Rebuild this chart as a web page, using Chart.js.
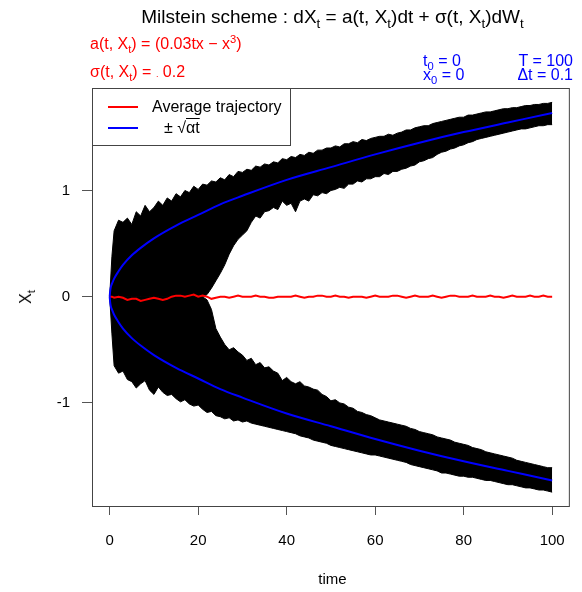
<!DOCTYPE html>
<html>
<head>
<meta charset="utf-8">
<script src="https://cdn.jsdelivr.net/npm/chart.js@4"></script>
<style>
  body { margin: 0; background: #fff; font-family: "Liberation Sans", Arial, sans-serif; }
  #wrap { position: relative; width: 582px; height: 592px; }
  .txt { position: absolute; white-space: nowrap; line-height: 1; }
  .s { font-size: 70%; position: relative; top: 0.35em; }
  .p { font-size: 70%; position: relative; top: -0.55em; }
  #legend { position: absolute; left: 92px; top: 88px; width: 199px; height: 58px;
            border: 1px solid #444; background: #fff; box-sizing: border-box; }
  .lk { position: absolute; left: 15px; width: 30px; height: 2px; }
</style>
</head>
<body>
<div id="wrap">
  <canvas id="chart" width="582" height="592"></canvas>

  <div class="txt" id="title" style="left:0; width:665px; text-align:center; top:7px; font-size:19px; color:#000;">
    Milstein scheme : dX<span class="s">t</span> = a(t, X<span class="s">t</span>)dt + σ(t, X<span class="s">t</span>)dW<span class="s">t</span>
  </div>
  <div class="txt" style="left:90px; top:36px; font-size:16px; color:#ff0000;">a(t, X<span class="s">t</span>) = (0.03tx − x<span class="p">3</span>)</div>
  <div class="txt" style="left:90px; top:64px; font-size:16px; color:#ff0000;">σ(t, X<span class="s">t</span>) = <span style="font-size:9px">.</span> 0.2</div>
  <div class="txt" style="left:423px; top:53px; font-size:16px; color:#0000ff;">t<span class="s">0</span> = 0</div>
  <div class="txt" style="left:423px; top:67px; font-size:16px; color:#0000ff;">x<span class="s">0</span> = 0</div>
  <div class="txt" style="right:9px; top:53px; font-size:16px; color:#0000ff;">T = 100</div>
  <div class="txt" style="right:9px; top:67px; font-size:16px; color:#0000ff;">Δt = 0.1</div>

  <div id="legend">
    <div class="lk" style="top:17px; background:#ff0000;"></div>
    <div class="lk" style="top:38px; background:#0000ff;"></div>
    <div class="txt" style="left:59px; top:10px; font-size:16px;">Average trajectory</div>
    <div class="txt" style="left:71px; top:31px; font-size:16px;">± √<span style="text-decoration:overline;">αt</span></div>
  </div>

  <div class="txt" style="left:0; width:665px; text-align:center; top:571px; font-size:15px;">time</div>
  <div class="txt" style="left:26px; top:297px; font-size:16px; transform:translate(-50%,-50%) rotate(-90deg); transform-origin:center;">X<span class="s">t</span></div>
</div>

<script>
// time grid shared by the trajectory envelopes and the average
const time = [0, 0.5,
  1, 2, 3, 4, 5, 6, 7, 8, 9, 10,
  11, 12, 13, 14, 15, 16, 17, 18, 19, 20,
  21, 22, 23, 24, 25, 26, 27, 28, 29, 30,
  31, 32, 33, 34, 35, 36, 37, 38, 39, 40,
  41, 42, 43, 44, 45, 46, 47, 48, 49, 50,
  51, 52, 53, 54, 55, 56, 57, 58, 59, 60,
  61, 62, 63, 64, 65, 66, 67, 68, 69, 70,
  71, 72, 73, 74, 75, 76, 77, 78, 79, 80,
  81, 82, 83, 84, 85, 86, 87, 88, 89, 90,
  91, 92, 93, 94, 95, 96, 97, 98, 99, 100];

// upper bundle of trajectories: top and bottom edge
const upperTop = [0, 0.38,
  0.62, 0.72, 0.70, 0.74, 0.68, 0.80, 0.76, 0.86, 0.80, 0.84,
  0.90, 0.86, 0.93, 0.90, 0.97, 0.94, 1.00, 0.98, 1.04, 1.01,
  1.06, 1.05, 1.09, 1.08, 1.12, 1.10, 1.15, 1.13, 1.18, 1.17,
  1.20, 1.19, 1.23, 1.22, 1.25, 1.24, 1.27, 1.26, 1.30, 1.29,
  1.32, 1.31, 1.34, 1.33, 1.36, 1.35, 1.38, 1.38, 1.40, 1.40,
  1.42, 1.41, 1.44, 1.44, 1.46, 1.45, 1.48, 1.47, 1.49, 1.50,
  1.51, 1.51, 1.53, 1.52, 1.54, 1.55, 1.57, 1.57, 1.59, 1.60,
  1.61, 1.61, 1.63, 1.64, 1.65, 1.66, 1.67, 1.68, 1.69, 1.69,
  1.71, 1.71, 1.72, 1.73, 1.74, 1.74, 1.75, 1.76, 1.77, 1.77,
  1.78, 1.78, 1.79, 1.80, 1.80, 1.81, 1.81, 1.82, 1.82, 1.83];
const upperBottom = [0, 0,
  0, 0, 0, 0, 0, 0, 0, 0, 0, 0,
  0, 0, 0, 0, 0, 0, 0, 0, 0, 0,
  0, 0.02, 0.08, 0.15, 0.22, 0.30, 0.40, 0.48, 0.54, 0.58,
  0.62, 0.70, 0.76, 0.74, 0.80, 0.81, 0.84, 0.82, 0.90, 0.86,
  0.88, 0.80, 0.90, 0.92, 0.90, 0.96, 0.95, 0.98, 0.97, 1.00,
  1.01, 1.03, 1.02, 1.06, 1.06, 1.09, 1.08, 1.11, 1.11, 1.13,
  1.13, 1.16, 1.15, 1.18, 1.18, 1.20, 1.21, 1.23, 1.24, 1.27,
  1.28, 1.30, 1.31, 1.34, 1.36, 1.37, 1.39, 1.40, 1.42, 1.43,
  1.45, 1.46, 1.48, 1.49, 1.50, 1.51, 1.52, 1.53, 1.54, 1.55,
  1.56, 1.57, 1.58, 1.58, 1.59, 1.60, 1.61, 1.61, 1.62, 1.62];

// lower bundle of trajectories: top and bottom edge
const lowerTop = [0, 0,
  0, 0, 0, 0, 0, 0, 0, 0, 0, 0,
  0, 0, 0, 0, 0, 0, 0, 0, 0, 0,
  0, -0.03, -0.12, -0.30, -0.38, -0.45, -0.50, -0.48, -0.52, -0.55,
  -0.60, -0.58, -0.64, -0.62, -0.67, -0.66, -0.70, -0.72, -0.79, -0.76,
  -0.80, -0.82, -0.80, -0.84, -0.85, -0.87, -0.88, -0.92, -0.94, -0.98,
  -0.97, -1.00, -1.01, -1.04, -1.05, -1.08, -1.09, -1.11, -1.12, -1.14,
  -1.16, -1.17, -1.18, -1.19, -1.20, -1.21, -1.22, -1.24, -1.25, -1.27,
  -1.28, -1.29, -1.30, -1.32, -1.33, -1.34, -1.35, -1.37, -1.38, -1.39,
  -1.40, -1.42, -1.43, -1.44, -1.46, -1.47, -1.48, -1.49, -1.50, -1.51,
  -1.52, -1.54, -1.55, -1.56, -1.57, -1.58, -1.59, -1.60, -1.61, -1.61];
const lowerBottom = [0, -0.35,
  -0.65, -0.72, -0.70, -0.78, -0.80, -0.86, -0.82, -0.79, -0.88, -0.92,
  -0.85, -0.90, -0.93, -0.92, -0.96, -0.99, -0.97, -1.01, -1.03, -1.02,
  -1.06, -1.09, -1.08, -1.12, -1.13, -1.15, -1.14, -1.17, -1.16, -1.18,
  -1.17, -1.19, -1.20, -1.21, -1.22, -1.23, -1.24, -1.25, -1.26, -1.27,
  -1.28, -1.29, -1.31, -1.32, -1.33, -1.35, -1.36, -1.37, -1.38, -1.40,
  -1.41, -1.42, -1.43, -1.44, -1.45, -1.46, -1.47, -1.48, -1.49, -1.49,
  -1.50, -1.51, -1.52, -1.53, -1.54, -1.55, -1.56, -1.58, -1.59, -1.60,
  -1.61, -1.62, -1.63, -1.64, -1.66, -1.66, -1.67, -1.68, -1.69, -1.69,
  -1.70, -1.70, -1.71, -1.72, -1.73, -1.73, -1.74, -1.75, -1.76, -1.77,
  -1.77, -1.78, -1.79, -1.80, -1.80, -1.81, -1.82, -1.82, -1.83, -1.84];

// average trajectory (red)
const average = [0, 0,
  -0.01, 0.00, -0.01, -0.03, -0.02, -0.02, -0.04, -0.03, -0.02, -0.01,
  -0.02, -0.03, -0.02, 0.00, 0.01, 0.01, 0.00, 0.01, 0.02, 0.00,
  0.01, 0.00, -0.02, -0.01, 0.00, 0.00, -0.01, 0.00, 0.01, 0.00,
  0.00, 0.00, 0.01, 0.00, 0.00, -0.01, -0.01, 0.00, 0.00, 0.00,
  0.00, 0.01, 0.00, -0.01, 0.00, 0.00, 0.01, 0.01, 0.00, 0.00,
  0.01, 0.00, 0.00, -0.01, 0.00, 0.00, 0.00, -0.01, 0.00, 0.01,
  0.00, 0.00, 0.00, 0.01, 0.01, 0.00, -0.01, 0.00, 0.01, 0.00,
  0.00, 0.00, 0.01, 0.00, -0.01, 0.00, 0.01, 0.01, 0.00, 0.00,
  0.00, 0.01, 0.00, 0.00, 0.00, 0.01, 0.00, 0.00, -0.01, 0.00,
  0.01, 0.00, 0.00, 0.00, 0.01, 0.00, 0.00, 0.01, 0.00, 0.00];

// +/- sqrt(alpha t) curves (blue)
const sqrtTime = [0, 0.1, 0.25, 0.5, 1, 2, 3, 5, 7, 10, 15, 20, 25, 30, 40, 50, 60, 70, 80, 90, 100];
const sqrtUp = [0, 0.05, 0.09, 0.12, 0.17, 0.24, 0.30, 0.39, 0.46, 0.55, 0.67, 0.77, 0.87, 0.95, 1.10, 1.22, 1.34, 1.45, 1.55, 1.64, 1.73];
const sqrtDown = [0, -0.05, -0.09, -0.12, -0.17, -0.24, -0.30, -0.39, -0.46, -0.55, -0.67, -0.77, -0.87, -0.95, -1.10, -1.22, -1.34, -1.45, -1.55, -1.64, -1.73];

const xTicks = [0, 20, 40, 60, 80, 100];
const yTicks = [-1, 0, 1];

function pts(xs, ys) {
    return xs.map((x, i) => ({ x: x, y: ys[i] }));
}

const boxPlugin = {
    id: "box",
    afterDraw(chart) {
        const a = chart.chartArea;
        const ctx = chart.ctx;
        ctx.save();
        ctx.strokeStyle = "#444";
        ctx.lineWidth = 1;
        ctx.strokeRect(a.left + 0.5, a.top + 0.5, a.right - a.left - 1, a.bottom - a.top - 1);
        ctx.restore();
    }
};

const band = { borderColor: "#000", backgroundColor: "#000", borderWidth: 1, pointRadius: 0, order: 3 };

new Chart(document.getElementById("chart"), {
    type: "line",
    data: {
        datasets: [
            { ...band, data: pts(time, upperTop), fill: false },
            { ...band, data: pts(time, upperBottom), fill: "-1" },
            { ...band, data: pts(time, lowerTop), fill: false },
            { ...band, data: pts(time, lowerBottom), fill: "-1" },
            { data: pts(time, average), borderColor: "#ff0000", borderWidth: 2, pointRadius: 0, fill: false, order: 1 },
            { data: pts(sqrtTime, sqrtUp), borderColor: "#0000ff", borderWidth: 2, pointRadius: 0, fill: false,
              cubicInterpolationMode: "monotone", order: 0 },
            { data: pts(sqrtTime, sqrtDown), borderColor: "#0000ff", borderWidth: 2, pointRadius: 0, fill: false,
              cubicInterpolationMode: "monotone", order: 0 }
        ]
    },
    options: {
        responsive: false,
        animation: false,
        layout: { padding: { top: 88, right: 9, left: 0, bottom: 0 } },
        plugins: { legend: { display: false }, tooltip: { enabled: false } },
        scales: {
            x: {
                type: "linear",
                min: -4,
                max: 104,
                afterBuildTicks: s => { s.ticks = xTicks.map(v => ({ value: v })); },
                afterFit: s => { s.height = 85; },
                grid: { drawOnChartArea: false, tickLength: 8, color: "#555" },
                border: { display: false },
                ticks: { color: "#000", padding: 17, maxRotation: 0, font: { family: "Liberation Sans", size: 15 } }
            },
            y: {
                min: -1.98,
                max: 1.965,
                afterBuildTicks: s => { s.ticks = yTicks.map(v => ({ value: v })); },
                afterFit: s => { s.width = 92; },
                grid: { drawOnChartArea: false, tickLength: 10, color: "#555" },
                border: { display: false },
                ticks: { color: "#000", padding: 12, font: { family: "Liberation Sans", size: 15 } }
            }
        }
    },
    plugins: [boxPlugin]
});
</script>
</body>
</html>
